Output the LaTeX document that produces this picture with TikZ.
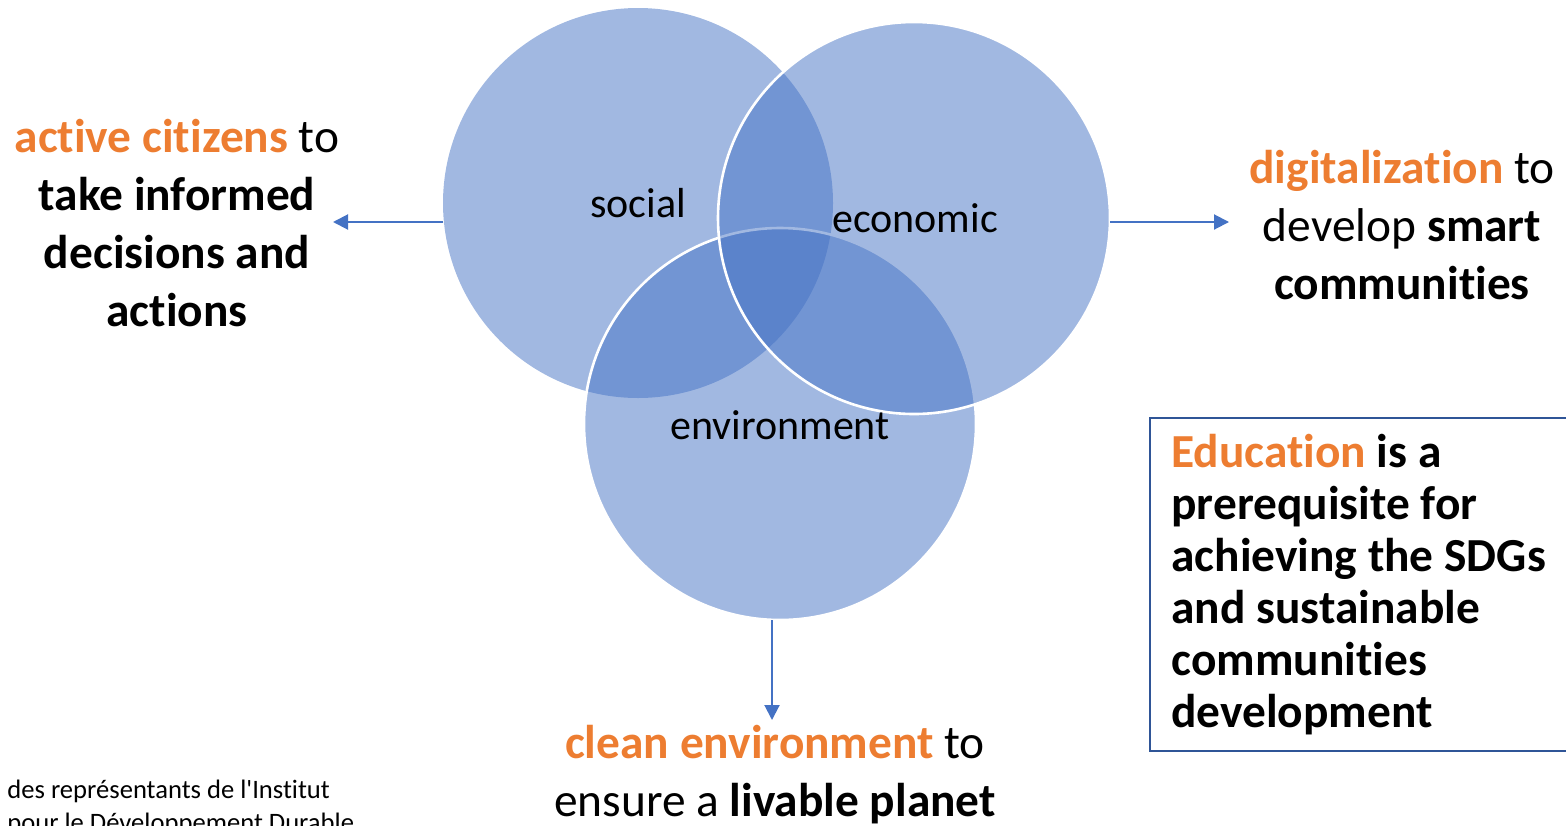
\documentclass[tikz,border=0pt]{standalone}
\usepackage{fontspec}
\setmainfont{Carlito}[Ligatures={NoCommon}]
\usetikzlibrary{arrows.meta}
\definecolor{vblue}{HTML}{4472C4}
\definecolor{vorange}{HTML}{ED7D31}
\definecolor{boxblue}{HTML}{2F5597}
\tikzset{
  venn/.style={circle, inner sep=0pt, outer sep=0pt, minimum size=#1, fill=vblue, fill opacity=0.5},
  rim/.style={draw=white, draw opacity=1, line width=1.3pt},
  vlabel/.style={font=\fontsize{21}{25}\selectfont, text=black, inner sep=0pt},
  outtext/.style={font=\fontsize{23.7}{29}\selectfont, align=center, inner sep=0pt},
  conn/.style={draw=vblue, line width=1pt, -{Triangle[length=7.5pt,width=7.5pt]}},
  srcnote/.style={anchor=base west, inner sep=0pt, font=\fontsize{13.3}{16}\selectfont}
}
\begin{document}
\begin{tikzpicture}[x=0.5pt,y=-0.5pt]
\useasboundingbox (0,0) rectangle (1566,825);
% circles
\node[venn=195pt] (social) at (638,203) {};
\node[venn=196pt, rim] (environment) at (780,424) {};
\node[venn=196pt, rim] (economic) at (914,218) {};
% labels
\node[vlabel] (lsocial) at (638,203) {social};
\node[vlabel] (leconomic) at (915,218) {economic};
\node[vlabel] (lenvironment) at (780,425) {environment};
% outer texts
\node[outtext] (ltext) at (177,223) {{\bfseries\color{vorange}active citizens} to\\ \bfseries take informed\\ \bfseries decisions and\\ \bfseries actions};
\node[outtext] (rtext) at (1402,225) {{\bfseries\color{vorange}digitalization} to\\ develop \textbf{smart}\\ \bfseries communities};
\node[outtext] (btext) at (775,775) {{\bfseries\color{vorange}clean environment} to\\ ensure a \textbf{livable planet}};
% arrows
\coordinate (lend) at (333,222);
\coordinate (rend) at (1229,222);
\coordinate (bend) at (772,720);
\draw[conn] (social.west |- lend) -- (lend);
\draw[conn] (economic.east |- rend) -- (rend);
\draw[conn] (environment.south -| bend) -- (bend);
% education box
\draw[draw=boxblue, line width=1pt] (1580,418) -- (1150,418) -- (1150,751) -- (1580,751);
\node[anchor=west, align=left, inner sep=0pt, font=\fontsize{23.7}{26}\selectfont\bfseries] (edu) at (1171,585)
  {{\color{vorange}Education} is a\\ prerequisite for\\ achieving the SDGs\\ and sustainable\\ communities\\ development};
% source note
\node[srcnote] (src1) at (7,798) {des représentants de l\XeTeXglyph\XeTeXcharglyph"27 Institut};
\node[srcnote] (src2) at (7,831) {pour le Développement Durable};
\end{tikzpicture}
\end{document}
